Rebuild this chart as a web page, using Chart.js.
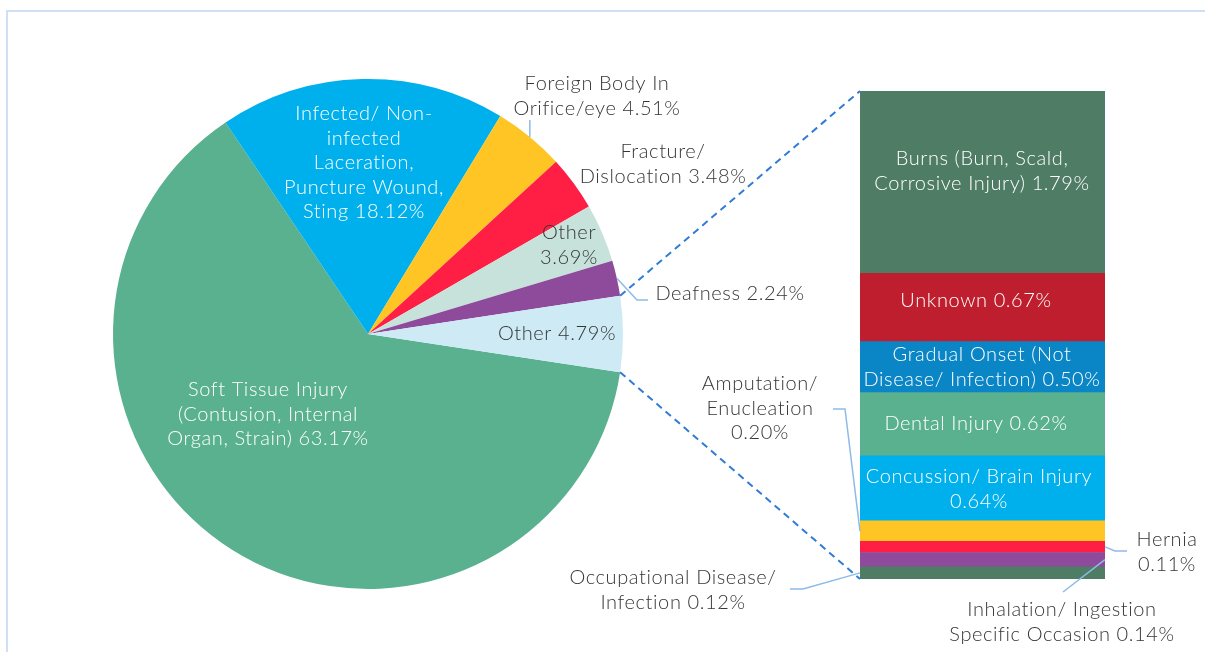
<!DOCTYPE html>
<html>
<head>
<meta charset="utf-8">
<script src="https://cdn.jsdelivr.net/npm/chart.js@4.4.1/dist/chart.umd.min.js"></script>
<style>
  html, body { margin: 0; padding: 0; background: #fff; }
  #wrap { position: relative; width: 1205px; height: 652px; overflow: hidden; }
  #frame { position: absolute; left: 6px; top: 10px; width: 1210px; height: 700px;
           border: 2px solid #cfe0f5; box-sizing: border-box; }
  canvas { position: absolute; left: 0; top: 0; }
</style>
</head>
<body>
<div id="wrap">
  <div id="frame"></div>
  <canvas id="pieChart" width="1205" height="652"></canvas>
  <canvas id="barChart" width="1205" height="652"></canvas>
</div>
<script>
// pie: main categories, "Other" (last) is broken out into the bar
var pieLabels = ['Soft Tissue Injury (Contusion, Internal Organ, Strain)',
                 'Infected/ Non-infected Laceration, Puncture Wound, Sting',
                 'Foreign Body In Orifice/eye', 'Fracture/ Dislocation',
                 'Other', 'Deafness', 'Other'];
var pieValues = [63.17, 18.12, 4.51, 3.48, 3.69, 2.24, 4.79];
var pieColors = ['#5ab190', '#00b0ec', '#fec524', '#ff1f44', '#c6e2da', '#8e4a9b', '#cdeaf5'];

// bar: breakdown of the "Other 4.79%" slice, bottom to top
var barLabels = ['Occupational Disease/ Infection', 'Inhalation/ Ingestion Specific Occasion',
                 'Hernia', 'Amputation/ Enucleation', 'Concussion/ Brain Injury',
                 'Dental Injury', 'Gradual Onset (Not Disease/ Infection)', 'Unknown',
                 'Burns (Burn, Scald, Corrosive Injury)'];
var barValues = [0.12, 0.14, 0.11, 0.20, 0.64, 0.62, 0.50, 0.67, 1.79];
var barColors = ['#4e7c64', '#8e4a9b', '#ff1f44', '#fec524', '#00b0ec', '#5ab190', '#0a85c5', '#be1e2d', '#4e7c64'];

var FONT = '300 20px Lato';
var DARK = '#363636';
var LINE_H = 24.5;

// text layout for the labels ({v} is replaced by the value)
var pieText = [
  { t: 'Soft Tissue Injury\n(Contusion, Internal\nOrgan, Strain) {v}%', x: 268, y: 390, c: '#fff' },
  { t: 'Infected/ Non-\ninfected\nLaceration,\nPuncture Wound,\nSting {v}%', x: 364, y: 114, c: '#fff' },
  { t: 'Foreign Body In\nOrifice/eye {v}%', x: 597, y: 84, c: DARK },
  { t: 'Fracture/\nDislocation {v}%', x: 663, y: 152, c: DARK },
  { t: 'Other\n{v}%', x: 569, y: 233, c: DARK },
  { t: 'Deafness {v}%', x: 730, y: 294, c: DARK },
  { t: 'Other {v}%', x: 557, y: 334, c: DARK }
];
var barText = [
  { t: 'Occupational Disease/\nInfection {v}%', x: 673, y: 578, c: DARK },
  { t: 'Inhalation/ Ingestion\nSpecific Occasion {v}%', x: 1062, y: 610, c: DARK },
  { t: 'Hernia\n{v}%', x: 1167, y: 540, c: DARK },
  { t: 'Amputation/\nEnucleation\n{v}%', x: 760, y: 384, c: DARK },
  { t: 'Concussion/ Brain Injury\n{v}%', x: 979, y: 477, c: '#fff' },
  { t: 'Dental Injury {v}%', x: 976, y: 424, c: '#fff' },
  { t: 'Gradual Onset (Not\nDisease/ Infection) {v}%', x: 982, y: 355, c: '#fff' },
  { t: 'Unknown {v}%', x: 976, y: 301, c: '#fff' },
  { t: 'Burns (Burn, Scald,\nCorrosive Injury) {v}%', x: 982, y: 159, c: '#fff' }
];

function drawText(ctx, item, value) {
  var lines = item.t.replace('{v}', value.toFixed(2)).split('\n');
  ctx.save();
  ctx.font = FONT;
  ctx.letterSpacing = '0.6px';
  ctx.fillStyle = item.c;
  ctx.textAlign = 'center';
  ctx.textBaseline = 'middle';
  lines.forEach(function (s, i) { ctx.fillText(s, item.x, item.y + i * LINE_H); });
  ctx.restore();
}

function leader(ctx, pts) {
  ctx.save();
  ctx.strokeStyle = '#8dbbe8';
  ctx.lineWidth = 1.5;
  ctx.beginPath();
  ctx.moveTo(pts[0][0], pts[0][1]);
  for (var i = 1; i < pts.length; i++) ctx.lineTo(pts[i][0], pts[i][1]);
  ctx.stroke();
  ctx.restore();
}

function arcEdge(arc, r) {
  var a = (arc.startAngle + arc.endAngle) / 2;
  return [arc.x + Math.cos(a) * r, arc.y + Math.sin(a) * r];
}

var pieLabelPlugin = {
  id: 'pieLabels',
  afterDatasetsDraw: function (chart) {
    var ctx = chart.ctx;
    var arcs = chart.getDatasetMeta(0).data;
    arcs.forEach(function (arc, i) { drawText(ctx, pieText[i], pieValues[i]); });
    var p = arcEdge(arcs[2], arcs[2].outerRadius);
    leader(ctx, [p, [p[0], 120]]);
    p = arcEdge(arcs[5], arcs[5].outerRadius);
    leader(ctx, [p, [637, 300], [648, 300]]);
  }
};

var pieChart = new Chart(document.getElementById('pieChart'), {
  type: 'pie',
  data: {
    labels: pieLabels,
    datasets: [{ data: pieValues, backgroundColor: pieColors, borderWidth: 0 }]
  },
  options: {
    responsive: false,
    animation: false,
    rotation: 90 + pieValues[6] / 100 * 360 / 2,
    layout: { padding: { left: 113, right: 582, top: 79, bottom: 63 } },
    plugins: { legend: { display: false }, tooltip: { enabled: false } }
  },
  plugins: [pieLabelPlugin]
});

var barLabelPlugin = {
  id: 'barLabels',
  afterDatasetsDraw: function (chart) {
    var ctx = chart.ctx;
    var bars = chart.data.datasets.map(function (d, i) { return chart.getDatasetMeta(i).data[0]; });
    var top = bars[bars.length - 1], bottom = bars[0];
    var other = pieChart.getDatasetMeta(0).data[6];

    // dashed connectors from the "Other" slice to the bar
    ctx.save();
    ctx.strokeStyle = '#2f7bd6';
    ctx.lineWidth = 2;
    ctx.setLineDash([7, 5]);
    ctx.beginPath();
    ctx.moveTo(other.x + Math.cos(other.startAngle) * other.outerRadius,
               other.y + Math.sin(other.startAngle) * other.outerRadius);
    ctx.lineTo(top.x - top.width / 2, top.y);
    ctx.moveTo(other.x + Math.cos(other.endAngle) * other.outerRadius,
               other.y + Math.sin(other.endAngle) * other.outerRadius);
    ctx.lineTo(bottom.x - bottom.width / 2, bottom.base);
    ctx.stroke();
    ctx.restore();

    function mid(b) { return (b.y + b.base) / 2; }
    var b = bars[3];
    leader(ctx, [[b.x - b.width / 2, mid(b)], [845, 409], [833, 409]]);
    b = bars[0];
    leader(ctx, [[b.x - b.width / 2, mid(b)], [803, 589], [790, 589]]);
    b = bars[2];
    leader(ctx, [[b.x + b.width / 2, mid(b)], [1115, 551], [1127, 551]]);
    b = bars[1];
    leader(ctx, [[b.x + b.width / 2, mid(b)], [1063, 592]]);

    bars.forEach(function (bar, i) { drawText(ctx, barText[i], barValues[i]); });
  }
};

var barTotal = barValues.reduce(function (s, v) { return s + v; }, 0);

var barChart = new Chart(document.getElementById('barChart'), {
  type: 'bar',
  data: {
    labels: ['Other'],
    datasets: barValues.map(function (v, i) {
      return { label: barLabels[i], data: [v], backgroundColor: barColors[i], borderWidth: 0 };
    })
  },
  options: {
    responsive: false,
    animation: false,
    barPercentage: 1,
    categoryPercentage: 1,
    layout: { padding: { left: 860, right: 100, top: 91, bottom: 73 } },
    scales: {
      x: { stacked: true, display: false },
      y: { stacked: true, display: false, min: 0, max: barTotal }
    },
    plugins: { legend: { display: false }, tooltip: { enabled: false } }
  },
  plugins: [barLabelPlugin]
});
</script>
</body>
</html>
